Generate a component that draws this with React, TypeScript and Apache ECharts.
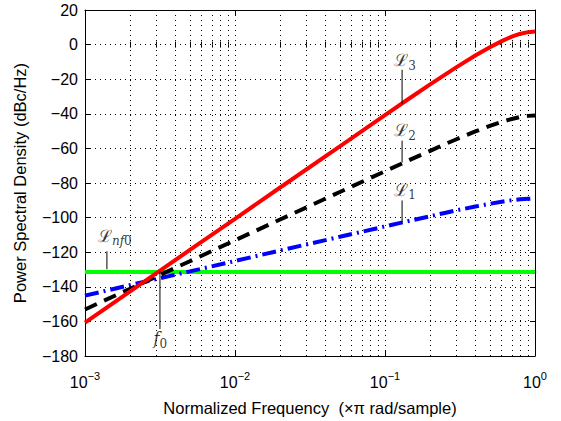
import React, { useEffect, useRef } from 'react';
import * as echarts from 'echarts';

// ---- data ----
const freq = [0.001, 0.002, 0.005, 0.01, 0.02, 0.05, 0.1, 0.15, 0.2, 0.25, 0.3, 0.4, 0.5, 0.6, 0.7, 0.8, 0.9, 1.0];
const l3Values = [-160.7, -142.6, -118.7, -100.7, -82.6, -58.8, -40.8, -30.3, -23.0, -17.5, -13.0, -6.3, -1.5, 2.0, 4.6, 6.3, 7.2, 7.6];
const l2Values = [-153.1, -141.1, -125.2, -113.1, -101.1, -85.2, -73.2, -66.2, -61.4, -57.6, -54.7, -50.2, -47.0, -44.6, -43.0, -41.8, -41.2, -41.0];
const l1Values = [-145.1, -139.0, -131.1, -125.1, -119.0, -111.1, -105.1, -101.6, -99.2, -97.3, -95.8, -93.6, -92.0, -90.8, -90.0, -89.4, -89.1, -89.0];
const floorFreq = [0.001, 1.0];
const floorValues = [-131.5, -131.5];

const xMin = 0.001;
const xMax = 1;
const yMin = -180;
const yMax = 20;
const xInnerMajorTicks = [0.01, 0.1];
const xMinorTicks = [
  0.002, 0.003, 0.004, 0.005, 0.006, 0.007, 0.008, 0.009,
  0.02, 0.03, 0.04, 0.05, 0.06, 0.07, 0.08, 0.09,
  0.2, 0.3, 0.4, 0.5, 0.6, 0.7, 0.8, 0.9,
];
const yInnerTicks = [-160, -140, -120, -100, -80, -60, -40, -20, 0];

const annotationNames = ['L3', 'L2', 'L1', 'Lnf0', 'f0'];
const annotationX = [0.136, 0.136, 0.136, 0.00158, 0.00318];
const annotationY = [-10.0, -50.3, -84.9, -111.4, -170.8];
const pointerX = [0.13, 0.13, 0.13, 0.0014, 0.00316];
const pointerTop = [-14.6, -55.5, -90.1, -119.5, -131.0];
const pointerBottom = [-34.2, -68.2, -102.8, -129.9, -164.4];

const SANS = "'Liberation Sans', Arial, Helvetica, sans-serif";
const SERIF = "'DejaVu Serif', 'Liberation Serif', serif";

const labelRich: Record<string, string> = {
  L3: '{L|ℒ}{s|3}',
  L2: '{L|ℒ}{s|2}',
  L1: '{L|ℒ}{s|1}',
  Lnf0: '{L|ℒ}{si|nf}{s|0}',
  f0: '{fi|f}{s|0}',
};

export default function App() {
  const ref = useRef<HTMLDivElement>(null);

  useEffect(() => {
    if (!ref.current) return;
    const chart = echarts.init(ref.current, undefined, { renderer: 'svg' });

    const dotted = { type: [1, 4] as any, color: '#000', width: 1 };

    const baseX = {
      type: 'log' as const,
      logBase: 10,
      min: xMin,
      max: xMax,
      gridIndex: 0,
    };

    const pointerSeries = pointerX.map((x, i) => ({
      type: 'line',
      xAxisIndex: 0,
      yAxisIndex: 0,
      data: [[x, pointerTop[i]], [x, pointerBottom[i]]],
      symbol: 'none',
      silent: true,
      lineStyle: { color: '#000', width: 1 },
      z: 4,
    }));

    const gridLines = [
      ...[...xInnerMajorTicks, ...xMinorTicks].map((v) => ({ coords: [[v, yMin], [v, yMax]] })),
      ...yInnerTicks.map((v) => ({ coords: [[xMin, v], [xMax, v]] })),
    ];

    const option: any = {
      animation: false,
      backgroundColor: '#fff',
      grid: { left: 85, right: 26, top: 10, bottom: 64, containLabel: false },
      xAxis: [
        {
          ...baseX,
          position: 'bottom',
          name: 'Normalized Frequency  (×π rad/sample)',
          nameLocation: 'middle',
          nameGap: 43,
          nameTextStyle: { fontFamily: SANS, fontSize: 16.5, color: '#000' },
          axisLine: { show: true, onZero: false, lineStyle: { color: '#000', width: 1 } },
          axisTick: { show: true, inside: true, length: 6, lineStyle: { color: '#000' } },
          splitLine: { show: false },
          axisLabel: {
            margin: 14,
            formatter: (v: number) => {
              const e = Math.round(Math.log10(v));
              return `{b|10}{s|${e < 0 ? '−' + -e : e}}`;
            },
            rich: {
              b: { fontFamily: SANS, fontSize: 16, lineHeight: 20, verticalAlign: 'bottom', color: '#000' },
              s: { fontFamily: SANS, fontSize: 11, lineHeight: 12, verticalAlign: 'top', color: '#000' },
            },
          },
        },
        {
          ...baseX,
          position: 'top',
          axisLine: { show: true, onZero: false, lineStyle: { color: '#000', width: 1 } },
          axisTick: { show: true, inside: true, length: 6, lineStyle: { color: '#000' } },
          axisLabel: { show: false },
          splitLine: { show: false },
        },
        {
          ...baseX,
          position: 'bottom',
          axisLine: { show: false },
          axisTick: { show: true, inside: true, length: 3, customValues: xMinorTicks, lineStyle: { color: '#000' } },
          axisLabel: { show: false },
          splitLine: { show: false },
        },
        {
          ...baseX,
          position: 'top',
          axisLine: { show: false },
          axisTick: { show: true, inside: true, length: 3, customValues: xMinorTicks, lineStyle: { color: '#000' } },
          axisLabel: { show: false },
          splitLine: { show: false },
        },
      ],
      yAxis: [
        {
          type: 'value',
          position: 'left',
          min: yMin,
          max: yMax,
          interval: 20,
          name: 'Power Spectral Density (dBc/Hz)',
          nameLocation: 'middle',
          nameGap: 57,
          nameRotate: 90,
          nameTextStyle: { fontFamily: SANS, fontSize: 16.5, color: '#000' },
          axisLine: { show: true, onZero: false, lineStyle: { color: '#000', width: 1 } },
          axisTick: { show: true, inside: true, length: 5, lineStyle: { color: '#000' } },
          splitLine: { show: false },
          axisLabel: {
            margin: 7,
            fontFamily: SANS,
            fontSize: 16,
            color: '#000',
            formatter: (v: number) => (v < 0 ? '−' + Math.abs(v) : String(v)),
          },
        },
        {
          type: 'value',
          position: 'right',
          min: yMin,
          max: yMax,
          interval: 20,
          axisLine: { show: true, onZero: false, lineStyle: { color: '#000', width: 1 } },
          axisTick: { show: true, inside: true, length: 5, lineStyle: { color: '#000' } },
          axisLabel: { show: false },
          splitLine: { show: false },
        },
      ],
      series: [
        {
          type: 'lines',
          coordinateSystem: 'cartesian2d',
          xAxisIndex: 0,
          yAxisIndex: 0,
          polyline: false,
          silent: true,
          z: 1,
          lineStyle: { ...dotted, opacity: 1 },
          data: gridLines,
        },
        {
          name: 'Lnf0',
          type: 'line',
          xAxisIndex: 0,
          yAxisIndex: 0,
          data: floorFreq.map((f, i) => [f, floorValues[i]]),
          symbol: 'none',
          lineStyle: { color: '#00ff00', width: 4 },
        },
        {
          name: 'L1',
          type: 'line',
          xAxisIndex: 0,
          yAxisIndex: 0,
          data: freq.map((f, i) => [f, l1Values[i]]),
          symbol: 'none',
          lineStyle: { color: '#0000ff', width: 4, type: [14, 5, 2, 5], cap: 'butt' },
        },
        {
          name: 'L2',
          type: 'line',
          xAxisIndex: 0,
          yAxisIndex: 0,
          data: freq.map((f, i) => [f, l2Values[i]]),
          symbol: 'none',
          lineStyle: { color: '#000', width: 4, type: [13, 8], cap: 'butt' },
        },
        {
          name: 'L3',
          type: 'line',
          xAxisIndex: 0,
          yAxisIndex: 0,
          data: freq.map((f, i) => [f, l3Values[i]]),
          symbol: 'none',
          lineStyle: { color: '#ff0000', width: 4 },
        },
        ...pointerSeries,
        {
          type: 'scatter',
          xAxisIndex: 0,
          yAxisIndex: 0,
          symbolSize: 0,
          silent: true,
          z: 5,
          data: annotationNames.map((n, i) => ({ name: n, value: [annotationX[i], annotationY[i]] })),
          label: {
            show: true,
            position: 'inside',
            formatter: (p: any) => labelRich[p.name],
            rich: {
              L: { fontFamily: SERIF, fontSize: 17, lineHeight: 20, verticalAlign: 'top', color: '#000' },
              fi: { fontFamily: SERIF, fontSize: 16, fontStyle: 'italic', lineHeight: 20, verticalAlign: 'top', color: '#000' },
              s: { fontFamily: SERIF, fontSize: 12, lineHeight: 12, verticalAlign: 'bottom', color: '#000' },
              si: { fontFamily: SERIF, fontSize: 12, fontStyle: 'italic', lineHeight: 12, verticalAlign: 'bottom', color: '#000' },
            },
          },
        },
      ],
    };

    chart.setOption(option);
    return () => chart.dispose();
  }, []);

  return <div ref={ref} style={{ width: 561, height: 421, position: 'absolute', left: 0, top: 0 }} />;
}
